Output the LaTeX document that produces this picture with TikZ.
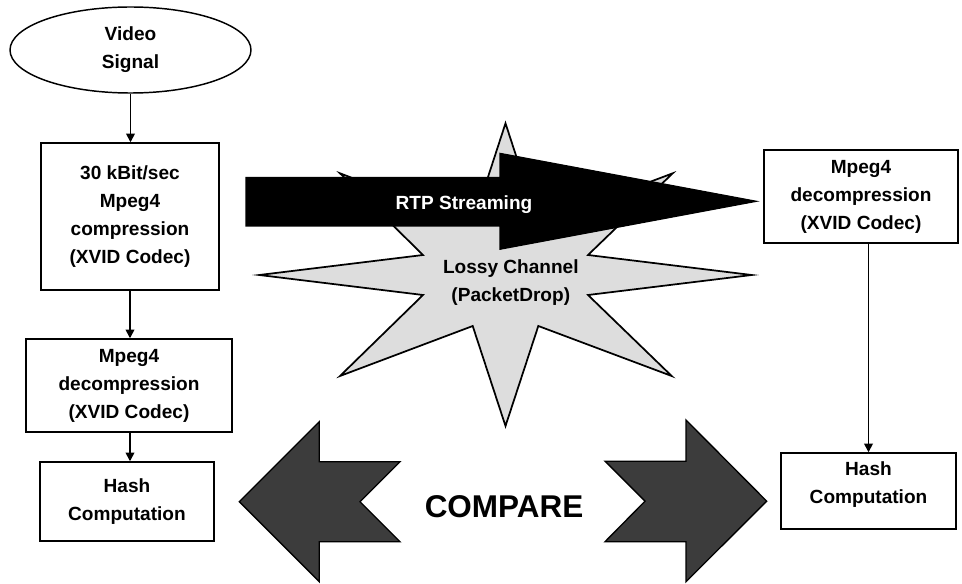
\documentclass[tikz,border=0pt]{standalone}
\usepackage{fontspec}
\setmainfont{Liberation Sans}
\usetikzlibrary{arrows.meta,shapes.geometric,calc}
\definecolor{starfill}{HTML}{DDDDDD}
\definecolor{cmpfill}{HTML}{3C3C3C}
\begin{document}
\begin{tikzpicture}[x=0.75pt,y=-0.75pt,
  txt/.style={font=\fontsize{14.3}{21}\selectfont\bfseries, align=center, inner sep=0pt},
  box/.style={txt, draw, rectangle, line width=1.1pt},
  conn/.style={line width=1.2pt, -{Triangle[length=6.5pt,width=6.5pt]}},
  burst/.style={draw, fill=starfill, line width=1.3pt, line join=miter},
  flow/.style={draw, fill=black, line width=0.8pt},
  cmp/.style={draw, fill=cmpfill, line width=1pt, line join=miter}]
\useasboundingbox (0,0) rectangle (962,584);

% sender chain
\node[txt, draw, ellipse, line width=1.1pt, minimum width=180.75pt, minimum height=64.5pt]
  (video) at (130.5,50) {Video\\Signal};
\node[box, minimum width=133.5pt, minimum height=110.25pt]
  (enc) at (130,216.5) {30 kBit/sec\\Mpeg4\\compression\\(XVID Codec)};
\node[box, minimum width=154.5pt, minimum height=69.75pt]
  (decL) at (129,385.5) {Mpeg4\\decompression\\(XVID Codec)};
\node[box, minimum width=130.5pt, minimum height=59.25pt]
  (hashL) at (127,501.5) {Hash\\Computation};

\draw[conn] (video.south) -- (video.south |- enc.north);
\draw[conn] (enc.south) -- (enc.south |- decL.north);
\draw[conn] (enc.south |- decL.south) -- (enc.south |- hashL.north);

% receiver chain
\node[box, minimum width=145.5pt, minimum height=69.75pt]
  (decR) at (861,196.5) {Mpeg4\\decompression\\(XVID Codec)};
\node[box, minimum width=131.25pt, minimum height=57pt] (hashR) at (868.5,491) {};
\node[txt] (hashRtext) at (868.5,485) {Hash\\Computation};

\draw[conn] (hashR.north |- decR.south) -- (hashR.north);

% lossy channel burst
\draw[burst] (505.5,123.3) -- (538.3,224) -- (672.7,173.3) -- (588,255)
  -- (751.7,275) -- (588,295) -- (671.7,376) -- (538.3,326)
  -- (505.5,426) -- (472.7,326) -- (340,376) -- (423,295)
  -- (259.3,275) -- (423,255) -- (340,173.3) -- (472.7,224) -- cycle;
\node[txt] (channel) at (510.8,282.5) {Lossy Channel\\(PacketDrop)};

% streaming arrow
\draw[flow] (246,177.3) -- (500,177.3) -- (500,153.3) -- (756.7,201.3)
  -- (500,249.3) -- (500,226) -- (246,226) -- cycle;
\node[txt, text=white] (rtp) at (464,205) {RTP Streaming};

% comparison arrows
\draw[cmp] (239.3,501.7) -- (319.3,421.7) -- (319.3,461.7) -- (400,461.7)
  -- (360,501.7) -- (400,541.7) -- (319.3,541.7) -- (319.3,581.7) -- cycle;
\draw[cmp] (766.7,501.2) -- (686,420) -- (686,461.2) -- (605,461.2)
  -- (645,501.2) -- (605,541.7) -- (686,541.7) -- (686,581.7) -- cycle;
\node[font=\fontsize{23.6}{28}\selectfont\bfseries, inner sep=0pt] (compare) at (504,507) {COMPARE};
\end{tikzpicture}
\end{document}
